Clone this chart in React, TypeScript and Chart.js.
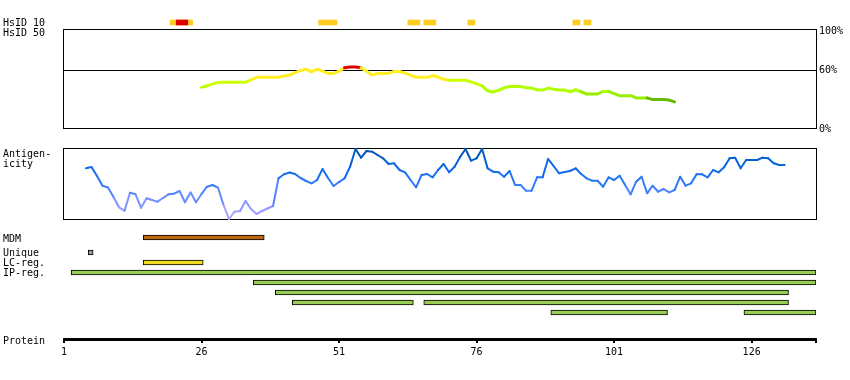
import React, { useEffect, useRef } from 'react';
import { Chart, registerables } from 'chart.js';

Chart.register(...registerables);

// ---------- data ----------
const X_MIN = 1;
const X_MAX = 137.7;
const AXIS_TICKS = [1, 26, 51, 76, 101, 126];

const HSID10_HITS: number[][] = [
  [20.3, 24.4], [47.3, 50.6], [63.5, 65.7], [66.4, 68.6], [74.4, 75.7], [93.5, 94.8], [95.5, 96.8],
];
const HSID10_STRONG: number[][] = [[21.4, 23.5]];

const HSID50_START = 26;
const HSID50 = [
  42.5, 44, 46, 47.5, 47.7, 47.7, 47.7, 47.7, 47.7, 50,
  52.7, 52.7, 52.7, 52.7, 52.7, 54, 55, 57.5, 59.5, 61,
  58.3, 61, 59, 56.7, 56.7, 59, 62.5, 63.3, 63.3, 62.5,
  59, 55, 56.7, 56.7, 56.7, 58.7, 58.7, 57, 55, 52.7,
  52.7, 52.7, 54.5, 53, 50.7, 49.7, 49.7, 49.7, 49.7, 48,
  46, 44, 39, 37.7, 39.5, 42, 43.3, 43.3, 43.3, 42,
  41.7, 40, 39.7, 41.7, 40.5, 39.7, 39.7, 38, 40, 38,
  35.7, 35.7, 35.7, 38.3, 38.3, 36, 34, 34, 34, 31.7,
  31.7, 31.7, 30, 30, 30, 29.5, 27.7,
];
const HSID50_TICKS = [0, 60, 100];
const HSID50_CUTOFF = 60;

const ANTIGEN_START = 5;
const ANTIGEN = [
  51.7, 53, 44, 34.3, 32.5, 23, 12.7, 9.3, 27.3, 25.7,
  12.3, 21.7, 20, 18.3, 22, 25.7, 26.3, 29, 17.7, 27.7,
  17.7, 26, 33.3, 35, 32.3, 15, 1, 8.3, 9, 19,
  11, 6, 9, 11.5, 14, 41.7, 45.7, 47.5, 46, 42,
  39, 36.7, 40, 51, 42, 34, 38, 41.7, 53.3, 71,
  62.3, 69, 68.3, 65, 61.7, 56, 56.7, 50, 47.7, 40,
  32.7, 45, 46, 42.7, 50, 56, 47.7, 53.3, 63, 71,
  59.3, 61.7, 71, 51.7, 48.3, 47.7, 43.3, 49, 35, 35,
  29.3, 29.3, 42.7, 42.7, 61, 54, 46.7, 48, 49, 51.7,
  46, 41.7, 39.3, 39.3, 33.3, 42.7, 40, 44.3, 35, 25.7,
  38.3, 43.3, 26.7, 34.3, 28.3, 31, 27.7, 30, 43.3, 34.3,
  36.7, 45.7, 45.7, 42.7, 50, 47.7, 52.7, 61.7, 62.3, 51.7,
  60, 60, 60, 62.3, 61.7, 56.7, 55, 55,
];

const MDM: number[][] = [[15.4, 37.4]];
const UNIQUE: number[][] = [[5.4, 6.3]];
const LC_REG: number[][] = [[15.4, 26.3]];
const IP_REG: number[][] = [
  [2.3, 137.7], [35.4, 137.7], [39.4, 132.7], [42.5, 64.5], [66.4, 132.7], [89.5, 110.7], [124.6, 137.7],
];
const IP_REG_ROW = [2, 3, 4, 5, 5, 6, 6];
const FEATURE_ROWS = ['Unique', 'LC-reg.', 'IP-reg. 1', 'IP-reg. 2', 'IP-reg. 3', 'IP-reg. 4', 'IP-reg. 5'];

const LEFT_LABELS = [
  { text: 'HsID 10', top: 18 },
  { text: 'HsID 50', top: 28 },
  { text: 'Antigen-\nicity', top: 149 },
  { text: 'MDM', top: 234 },
  { text: 'Unique', top: 248 },
  { text: 'LC-reg.', top: 258 },
  { text: 'IP-reg.', top: 268 },
  { text: 'Protein', top: 336 },
];

// ---------- styles ----------
const FONT = '"DejaVu Sans Mono", monospace';

function hsidColor(v: number): string {
  if (v >= 61.5) return '#dd0000';
  if (v >= 50.2) return '#ffee22';
  if (v >= 45) return '#ccff00';
  if (v >= 38) return '#b0ff00';
  if (v >= 31) return '#99ee00';
  return '#66bb00';
}

const ANTIGEN_STOPS: [number, number[]][] = [
  [0, [185, 170, 255]],
  [15, [140, 150, 255]],
  [30, [70, 130, 255]],
  [45, [25, 112, 242]],
  [58, [5, 100, 222]],
  [72, [5, 75, 160]],
];
function antigenColor(v: number): string {
  for (let i = 1; i < ANTIGEN_STOPS.length; i++) {
    const [v1, c1] = ANTIGEN_STOPS[i];
    const [v0, c0] = ANTIGEN_STOPS[i - 1];
    if (v <= v1 || i === ANTIGEN_STOPS.length - 1) {
      const t = Math.max(0, Math.min(1, (v - v0) / (v1 - v0)));
      const c = c0.map((a, k) => Math.round(a + (c1[k] - a) * t));
      return `rgb(${c[0]},${c[1]},${c[2]})`;
    }
  }
  return '#0066dd';
}

const framePlugin = {
  id: 'frame',
  beforeDatasetsDraw(chart: any) {
    const { ctx, chartArea: a } = chart;
    ctx.save();
    ctx.strokeStyle = '#000';
    ctx.lineWidth = 1;
    ctx.strokeRect(
      Math.round(a.left) - 0.5,
      Math.round(a.top) + 0.5,
      Math.round(a.right - a.left) + 1,
      Math.round(a.bottom - a.top) - 1,
    );
    ctx.restore();
  },
};

function base(padding: any) {
  return {
    responsive: false,
    maintainAspectRatio: false,
    animation: false as const,
    events: [] as any[],
    layout: { padding },
    plugins: {
      legend: { display: false },
      tooltip: { enabled: false },
      title: { display: false },
    },
  };
}

const hiddenX = () => ({ type: 'linear', min: X_MIN, max: X_MAX, display: false });

function bars(ranges: number[][], row: (i: number) => string, fill: string, border: number, thickness: number) {
  return {
    data: ranges.map((r, i) => ({ x: [r[0], r[1]], y: row(i) })),
    backgroundColor: fill,
    borderColor: '#000',
    borderWidth: border,
    borderSkipped: false,
    barThickness: thickness,
    grouped: false,
  };
}

function trackConfig(rows: string[], datasets: any[], padTop: number, padBottom: number): any {
  return {
    type: 'bar',
    data: { labels: rows, datasets },
    options: {
      ...base({ left: 64, right: 34, top: padTop, bottom: padBottom }),
      indexAxis: 'y',
      scales: {
        x: hiddenX(),
        y: { type: 'category', display: false },
      },
    },
  };
}

type Panel = { top: number; height: number; config: () => any };

const PANELS: Panel[] = [
  {
    top: 15,
    height: 15,
    config: () =>
      trackConfig(
        ['HsID 10'],
        [
          bars(HSID10_STRONG, () => 'HsID 10', '#dd0000', 0, 5),
          bars(HSID10_HITS, () => 'HsID 10', '#ffcc22', 0, 5),
        ],
        0,
        0,
      ),
  },
  {
    top: 20,
    height: 118,
    config: () => ({
      type: 'line',
      data: {
        datasets: [
          {
            data: HSID50.map((v, i) => ({ x: HSID50_START + i, y: v })),
            borderWidth: 3,
            pointRadius: 0,
            borderColor: '#ffee22',
            borderCapStyle: 'round',
            borderJoinStyle: 'round',
            segment: {
              borderColor: (c: any) => hsidColor((c.p0.parsed.y + c.p1.parsed.y) / 2),
            },
          },
        ],
      },
      options: {
        ...base({ left: 64, right: 0, top: 8, bottom: 8 }),
        scales: {
          x: hiddenX(),
          y: {
            type: 'linear',
            position: 'right',
            min: 0,
            max: 102,
            afterBuildTicks: (s: any) => {
              s.ticks = HSID50_TICKS.map((v) => ({ value: v }));
            },
            afterFit: (s: any) => {
              s.width = 34;
            },
            ticks: {
              callback: (v: any) => v + '%',
              color: '#000',
              font: { family: FONT, size: 10 },
              padding: 3,
            },
            grid: {
              drawTicks: false,
              lineWidth: 1,
              color: (c: any) => (c.tick && c.tick.value === HSID50_CUTOFF ? '#000' : 'rgba(0,0,0,0)'),
            },
            border: { display: false },
          },
        },
      },
      plugins: [framePlugin],
    }),
  },
  {
    top: 140,
    height: 84,
    config: () => ({
      type: 'line',
      data: {
        datasets: [
          {
            data: ANTIGEN.map((v, i) => ({ x: ANTIGEN_START + i, y: v })),
            borderWidth: 2,
            pointRadius: 0,
            borderColor: '#1a70ee',
            borderCapStyle: 'round',
            borderJoinStyle: 'round',
            segment: {
              borderColor: (c: any) => antigenColor((c.p0.parsed.y + c.p1.parsed.y) / 2),
            },
          },
        ],
      },
      options: {
        ...base({ left: 64, right: 34, top: 8, bottom: 4 }),
        scales: {
          x: hiddenX(),
          y: { type: 'linear', min: 0, max: 72, display: false },
        },
      },
      plugins: [framePlugin],
    }),
  },
  {
    top: 233,
    height: 10,
    config: () => trackConfig(['MDM'], [bars(MDM, () => 'MDM', '#bb6811', 1, 5)], 0, 1),
  },
  {
    top: 247,
    height: 71,
    config: () =>
      trackConfig(
        FEATURE_ROWS,
        [
          bars(UNIQUE, () => FEATURE_ROWS[0], '#999999', 1, 5),
          bars(LC_REG, () => FEATURE_ROWS[1], '#eedd22', 1, 5),
          bars(IP_REG, (i) => FEATURE_ROWS[IP_REG_ROW[i]], '#99cc55', 1, 5),
        ],
        0.5,
        0.5,
      ),
  },
  {
    top: 320,
    height: 50,
    config: () => ({
      type: 'line',
      data: { datasets: [] },
      options: {
        ...base({ left: 64, right: 34, top: 0, bottom: 0 }),
        scales: {
          x: {
            type: 'linear',
            position: 'bottom',
            min: X_MIN,
            max: X_MAX,
            afterBuildTicks: (s: any) => {
              s.ticks = [...AXIS_TICKS, X_MAX].map((v) => ({ value: v }));
            },
            afterFit: (s: any) => {
              s.height = 31;
            },
            ticks: {
              autoSkip: false,
              maxRotation: 0,
              color: '#000',
              font: { family: FONT, size: 10 },
              padding: 3,
              callback: (v: any) => (AXIS_TICKS.includes(v) ? String(v) : ''),
            },
            grid: {
              drawOnChartArea: false,
              drawTicks: true,
              tickLength: 4,
              lineWidth: 2,
              color: '#000',
            },
            border: { display: true, width: 3, color: '#000' },
          },
          y: { display: false },
        },
      },
    }),
  },
];

export default function App() {
  const refs = useRef<(HTMLCanvasElement | null)[]>([]);

  useEffect(() => {
    const charts = PANELS.map((p, i) => new Chart(refs.current[i] as HTMLCanvasElement, p.config()));
    return () => charts.forEach((c) => c.destroy());
  }, []);

  return (
    <div style={{ position: 'absolute', left: 0, top: 0, width: 850, height: 380, background: '#fff', overflow: 'hidden' }}>
      {PANELS.map((p, i) => (
        <canvas
          key={i}
          ref={(el) => {
            refs.current[i] = el;
          }}
          width={850}
          height={p.height}
          style={{ position: 'absolute', left: 0, top: p.top, width: 850, height: p.height }}
        />
      ))}
      {LEFT_LABELS.map((l, i) => (
        <div
          key={i}
          style={{
            position: 'absolute',
            left: 3,
            top: l.top,
            fontFamily: FONT,
            fontSize: 10,
            lineHeight: '10px',
            whiteSpace: 'pre',
            color: '#000',
          }}
        >
          {l.text}
        </div>
      ))}
    </div>
  );
}
